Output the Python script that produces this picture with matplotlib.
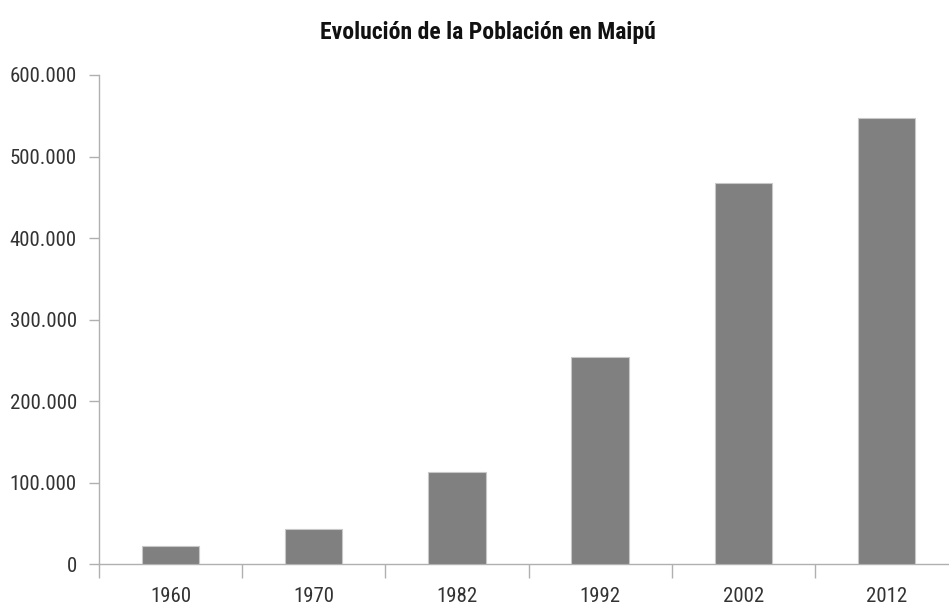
import matplotlib
matplotlib.use('Agg')
import matplotlib.pyplot as plt
from matplotlib import font_manager
from matplotlib.ticker import FuncFormatter, FixedLocator

# Datos
anios = ['1960', '1970', '1982', '1992', '2002', '2012']
poblacion = [22800, 43300, 113000, 254700, 467500, 547000]

# Buscar una fuente estrecha parecida a Calibri
nombres = {f.name for f in font_manager.fontManager.ttflist}
fuente = 'DejaVu Sans'
for cand in ['Liberation Sans Narrow', 'Roboto Condensed', 'Open Sans Condensed']:
    if cand in nombres:
        fuente = cand
        break
plt.rcParams['font.family'] = [fuente, 'DejaVu Sans']
if fuente == 'DejaVu Sans':
    plt.rcParams['font.stretch'] = 'condensed'

fig = plt.figure(figsize=(9.49, 6.07), dpi=100)
fig.patch.set_facecolor('white')

# El eje se extiende más allá del borde derecho (la imagen original está recortada)
ax = fig.add_axes([99 / 949, 42.7 / 607, 859 / 949, 489.3 / 607])

x = list(range(len(anios)))
ax.bar(x, poblacion, width=0.4, color='#808080', edgecolor='#c8c8c8', linewidth=0.8, zorder=3)

ax.set_xlim(-0.5, len(anios) - 0.5)
ax.set_ylim(0, 600000)
ax.set_yticks(range(0, 600001, 100000))
ax.yaxis.set_major_formatter(FuncFormatter(lambda v, p: f'{int(v):,}'.replace(',', '.')))

# Marcas del eje X en los límites de las categorías, etiquetas centradas
ax.set_xticks([i + 0.5 for i in range(-1, len(anios))])
ax.set_xticklabels([])
ax.xaxis.set_minor_locator(FixedLocator(x))
ax.set_xticklabels(anios, minor=True)
ax.tick_params(axis='x', which='major', length=10, width=1, color='#b0b0b0', direction='out')
ax.tick_params(axis='x', which='minor', length=0, pad=16, labelsize=15, labelcolor='#333333')
ax.tick_params(axis='y', length=7, width=1, color='#b0b0b0', pad=9, labelsize=15, labelcolor='#333333')

for lado in ['top', 'right']:
    ax.spines[lado].set_visible(False)
for lado in ['left', 'bottom']:
    ax.spines[lado].set_color('#b0b0b0')
    ax.spines[lado].set_linewidth(1)

fig.text(487.5 / 949, 1 - 33 / 607, 'Evolución de la Población en Maipú',
         ha='center', va='center', fontsize=17, fontweight='bold', color='#111111')

fig.savefig('out.png', dpi=100, facecolor='white')
